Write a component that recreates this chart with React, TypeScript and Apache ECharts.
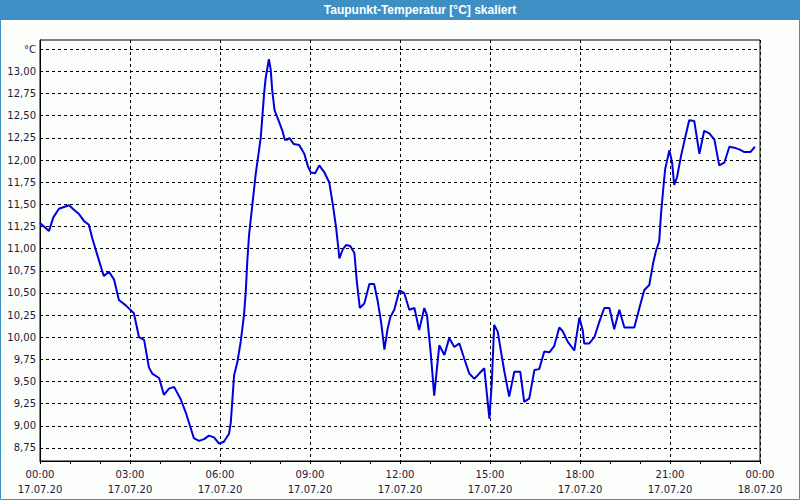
import React, { useEffect, useRef } from "react";
import * as echarts from "echarts";

const hours = [0, 0.3, 0.44, 0.63, 0.8, 0.97, 1.13, 1.3, 1.47, 1.63, 1.74, 1.91, 2.08, 2.13, 2.3, 2.47, 2.63, 2.86, 3.13, 3.3, 3.47, 3.63, 3.74, 3.97, 4.13, 4.3, 4.47, 4.69, 4.86, 5.13, 5.3, 5.47, 5.63, 5.8, 5.97, 6.13, 6.3, 6.36, 6.47, 6.58, 6.69, 6.8, 6.86, 6.91, 6.97, 7.08, 7.19, 7.3, 7.36, 7.47, 7.52, 7.63, 7.69, 7.74, 7.82, 7.97, 8.08, 8.16, 8.24, 8.31, 8.46, 8.64, 8.81, 8.94, 9.03, 9.17, 9.31, 9.48, 9.64, 9.76, 9.87, 9.98, 10.09, 10.2, 10.34, 10.48, 10.56, 10.66, 10.81, 10.98, 11.14, 11.26, 11.37, 11.48, 11.59, 11.68, 11.81, 11.98, 12.14, 12.31, 12.48, 12.64, 12.81, 12.9, 13.03, 13.14, 13.31, 13.48, 13.64, 13.81, 13.98, 14.14, 14.31, 14.48, 14.64, 14.81, 14.89, 14.98, 15.06, 15.14, 15.26, 15.37, 15.48, 15.64, 15.81, 16.01, 16.14, 16.31, 16.48, 16.64, 16.81, 16.98, 17.14, 17.31, 17.42, 17.59, 17.81, 17.98, 18.09, 18.14, 18.31, 18.48, 18.64, 18.81, 18.98, 19.14, 19.31, 19.48, 19.81, 19.98, 20.14, 20.31, 20.44, 20.53, 20.64, 20.7, 20.79, 20.84, 20.98, 21.07, 21.14, 21.23, 21.37, 21.51, 21.64, 21.81, 21.98, 22.14, 22.31, 22.48, 22.64, 22.81, 22.98, 23.14, 23.31, 23.48, 23.68, 23.83];

const values = [11.29, 11.2, 11.35, 11.45, 11.47, 11.49, 11.44, 11.39, 11.31, 11.27, 11.12, 10.93, 10.74, 10.69, 10.74, 10.65, 10.42, 10.36, 10.27, 10.0, 9.97, 9.66, 9.59, 9.54, 9.35, 9.42, 9.44, 9.3, 9.15, 8.86, 8.83, 8.85, 8.89, 8.87, 8.8, 8.82, 8.91, 9.04, 9.57, 9.72, 9.95, 10.25, 10.52, 10.86, 11.16, 11.5, 11.84, 12.11, 12.26, 12.75, 12.92, 13.14, 13.02, 12.79, 12.56, 12.43, 12.33, 12.23, 12.23, 12.25, 12.18, 12.17, 12.07, 11.92, 11.86, 11.85, 11.94, 11.86, 11.75, 11.5, 11.24, 10.89, 10.99, 11.04, 11.03, 10.95, 10.63, 10.33, 10.38, 10.6, 10.6, 10.4, 10.17, 9.86, 10.1, 10.23, 10.31, 10.53, 10.5, 10.31, 10.33, 10.08, 10.33, 10.25, 9.8, 9.34, 9.91, 9.8, 9.99, 9.89, 9.93, 9.76, 9.59, 9.53, 9.59, 9.65, 9.38, 9.08, 9.49, 10.14, 10.06, 9.83, 9.61, 9.33, 9.61, 9.61, 9.27, 9.31, 9.63, 9.64, 9.84, 9.83, 9.9, 10.11, 10.07, 9.95, 9.85, 10.22, 10.08, 9.93, 9.93, 10.0, 10.17, 10.33, 10.33, 10.09, 10.31, 10.11, 10.11, 10.33, 10.53, 10.59, 10.84, 10.97, 11.08, 11.39, 11.73, 11.9, 12.11, 11.97, 11.72, 11.8, 12.05, 12.26, 12.45, 12.44, 12.07, 12.33, 12.3, 12.23, 11.94, 11.97, 12.15, 12.14, 12.12, 12.09, 12.09, 12.15];

const yTicks = [8.75, 9.0, 9.25, 9.5, 9.75, 10.0, 10.25, 10.5, 10.75, 11.0, 11.25, 11.5, 11.75, 12.0, 12.25, 12.5, 12.75, 13.0, 13.25];
const xTicks = [0, 3, 6, 9, 12, 15, 18, 21, 24];
const unitLabel = "°C";
const titleText = "Taupunkt-Temperatur [°C] skaliert";

const pad = (n: number) => (n < 10 ? "0" + n : "" + n);

export default function App() {
  const ref = useRef<HTMLDivElement>(null);
  useEffect(() => {
    if (!ref.current) return;
    const chart = echarts.init(ref.current, undefined, { renderer: "svg" });
    const dash = [3, 3];
    const labelColor = "#1a1a40";
    chart.setOption({
      animation: false,
      backgroundColor: "#fcfefc",
      graphic: [
        { type: "rect", z: 100, shape: { x: 0, y: 0, width: 800, height: 20 }, style: { fill: "#3d8fc4" } },
        {
          type: "text", z: 101, x: 420, y: 10,
          style: { text: titleText, fill: "#ffffff", font: "bold 12px 'Liberation Sans', Arial, sans-serif", align: "center", verticalAlign: "middle" },
        },
        { type: "rect", z: 100, shape: { x: 0.5, y: 0.5, width: 799, height: 499 }, style: { fill: "none", stroke: "#3d8fc4", lineWidth: 1 } },
      ],
      grid: {
        left: 40, right: 40, top: 40, bottom: 39,
        show: true, borderColor: "#000", borderWidth: 1, backgroundColor: "#fcfefc",
      },
      xAxis: {
        type: "value", min: 0, max: 24, interval: 3,
        axisLine: { show: true, lineStyle: { color: "#000", width: 1 } },
        axisTick: { show: true, length: 3, lineStyle: { color: "#000" } },
        minorTick: { show: true, splitNumber: 3, length: 3, lineStyle: { color: "#000" } },
        splitLine: { show: true, lineStyle: { color: "#000", type: dash, width: 1 } },
        axisLabel: {
          customValues: xTicks,
          color: labelColor, fontFamily: "'DejaVu Sans', Verdana, sans-serif", fontSize: 10,
          lineHeight: 15, margin: 6,
          formatter: (v: number) => `${pad(v % 24)}:00\n${v >= 24 ? "18.07.20" : "17.07.20"}`,
        },
      },
      yAxis: {
        type: "value", min: 8.603, max: 13.355,
        axisLine: { show: true, lineStyle: { color: "#000", width: 1 } },
        axisTick: { show: false },
        splitLine: { show: false },
        axisLabel: {
          customValues: yTicks,
          color: labelColor, fontFamily: "'DejaVu Sans', Verdana, sans-serif", fontSize: 10, margin: 4,
          formatter: (v: number) => (Math.abs(v - 13.25) < 1e-6 ? unitLabel : v.toFixed(2).replace(".", ",")),
        },
      },
      series: [
        {
          type: "line", data: [], z: 1, silent: true,
          markLine: {
            silent: true, symbol: "none", animation: false,
            label: { show: false },
            lineStyle: { color: "#000", type: dash, width: 1 },
            data: yTicks.map((v) => ({ yAxis: v })),
          },
        },
        {
          type: "line", z: 5,
          data: hours.map((h, i) => [h, values[i]]),
          showSymbol: false, symbol: "none",
          lineStyle: { color: "#0000dd", width: 2 },
          itemStyle: { color: "#0000dd" },
        },
      ],
    });
    return () => chart.dispose();
  }, []);
  return <div ref={ref} style={{ position: "fixed", left: 0, top: 0, width: 800, height: 500 }} />;
}
